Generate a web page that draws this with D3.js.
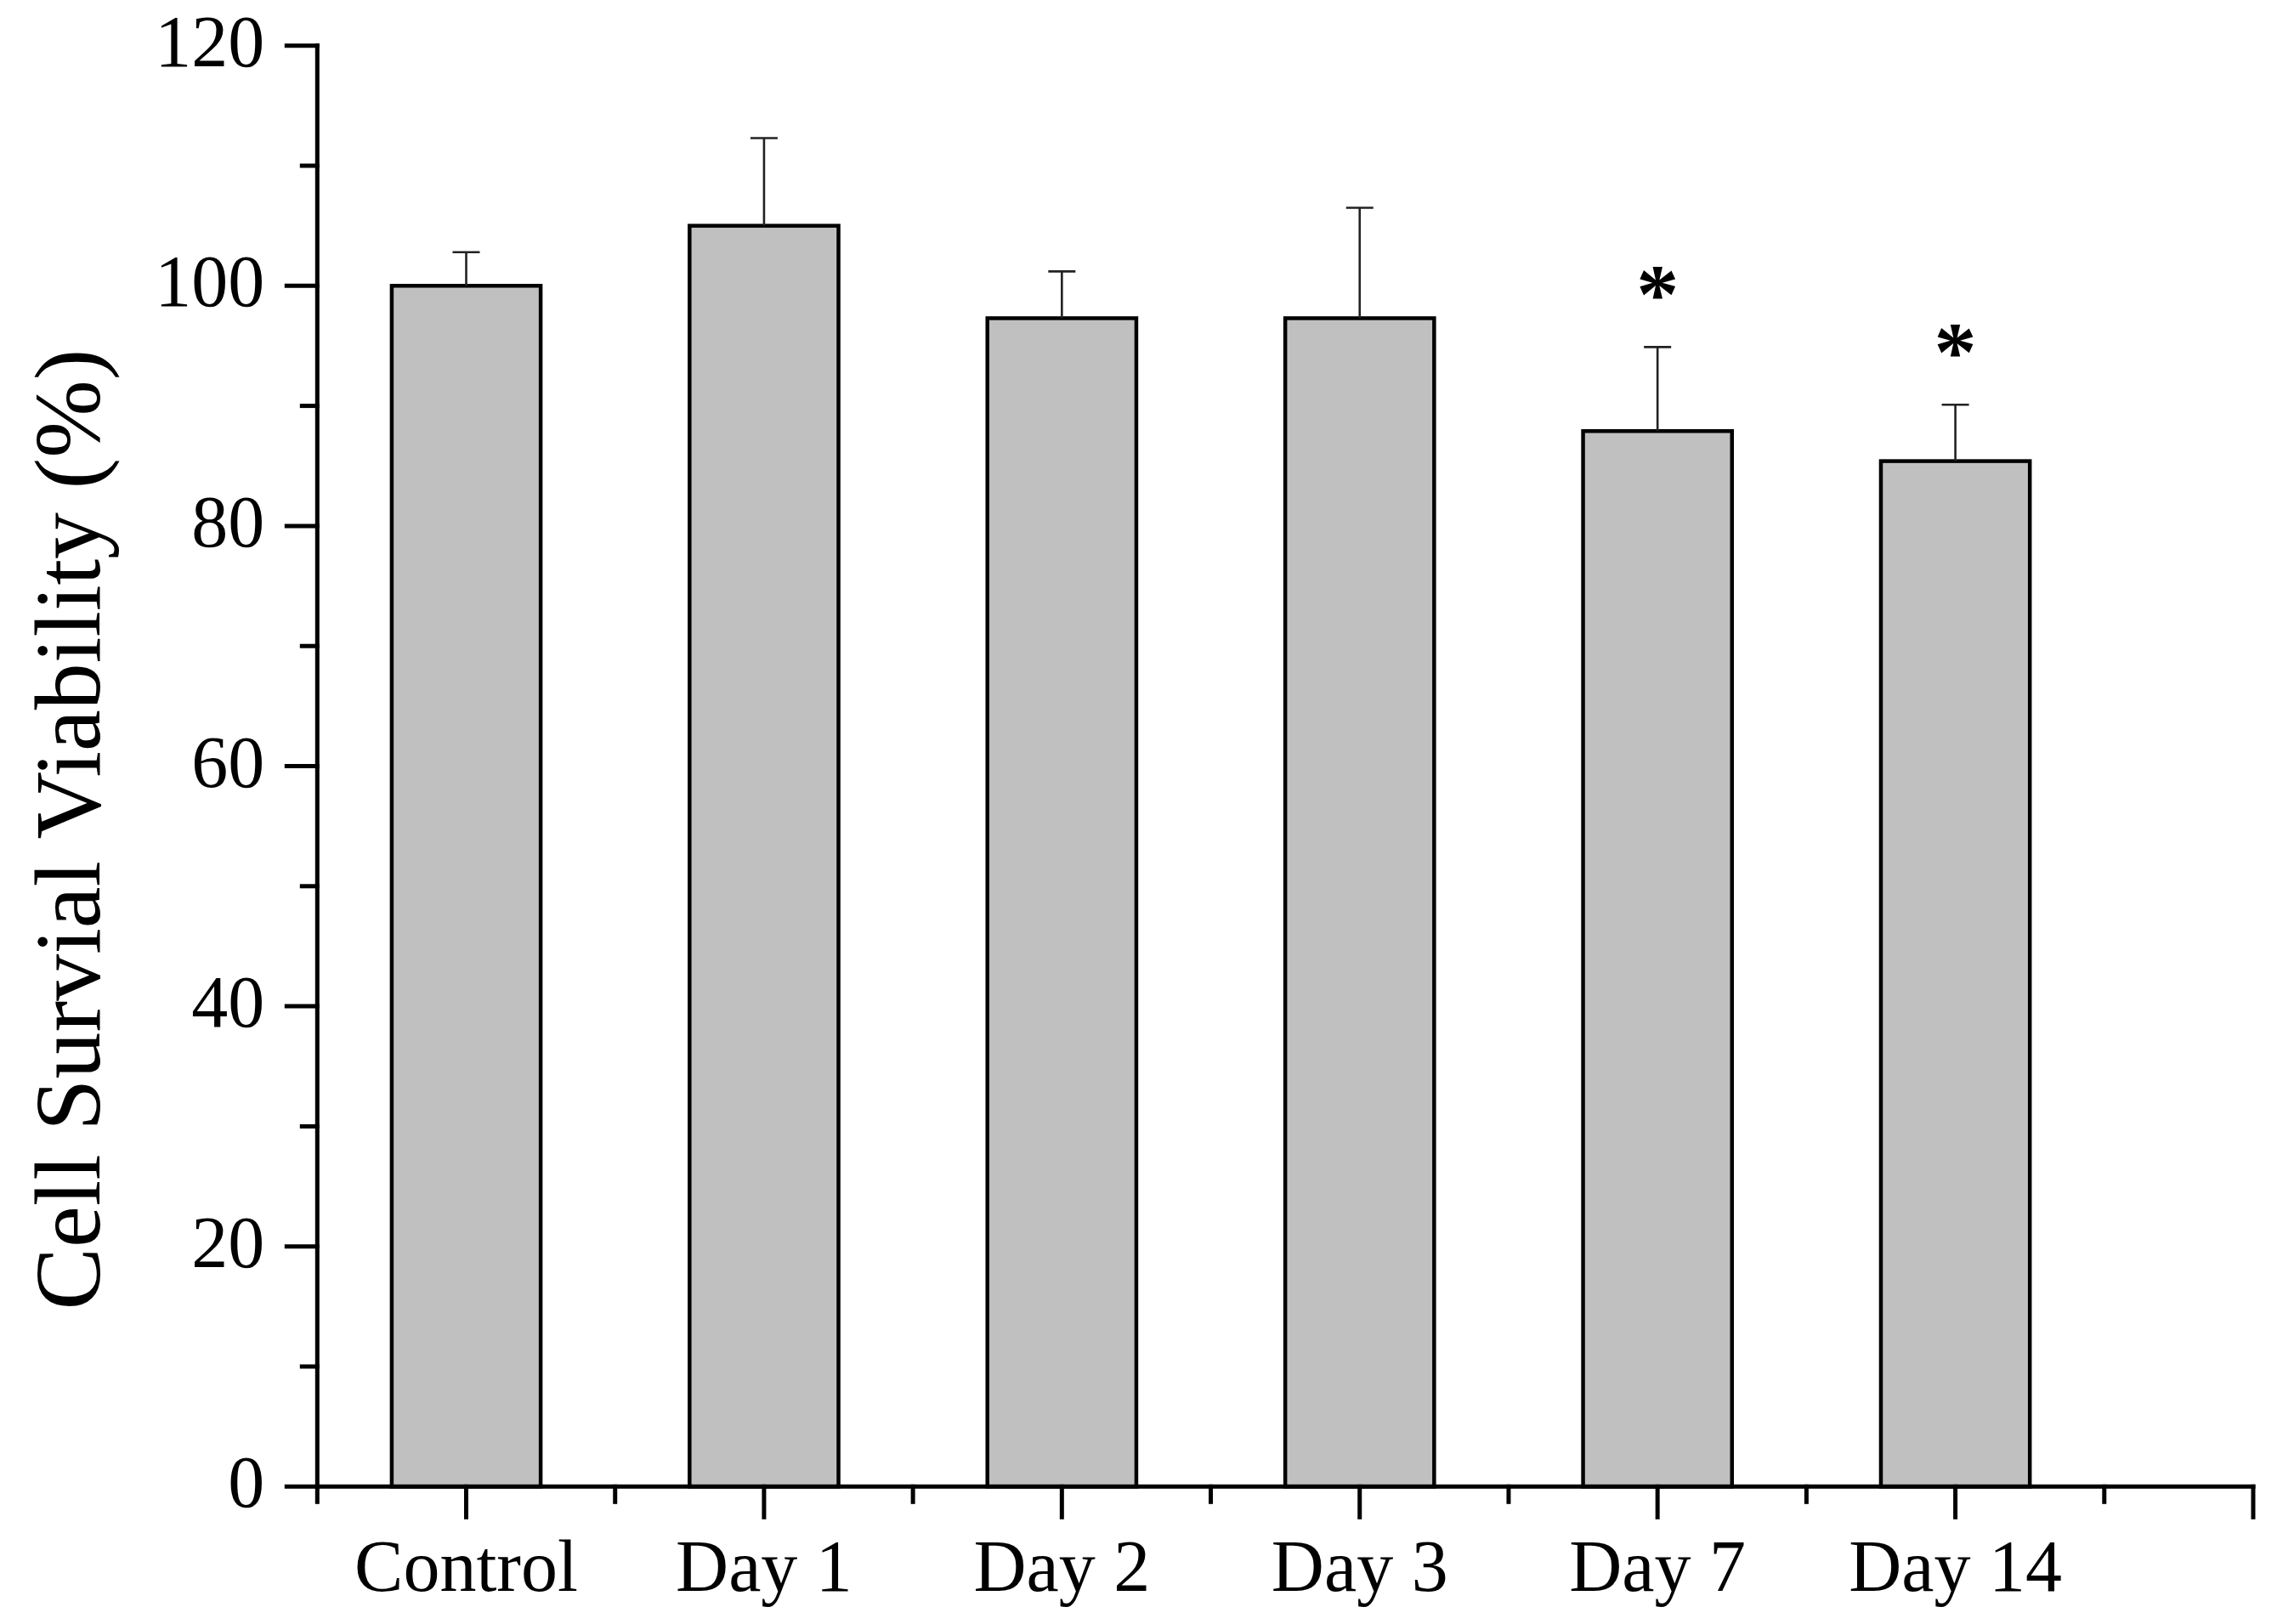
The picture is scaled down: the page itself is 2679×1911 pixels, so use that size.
<!DOCTYPE html>
<html>
<head>
<meta charset="utf-8">
<script src="https://cdn.jsdelivr.net/npm/d3@7"></script>
<style>
  html, body { margin: 0; padding: 0; background: #fff; }
  svg { display: block; }
  text { font-family: "Liberation Serif", "Times New Roman", serif; fill: #000; }
</style>
</head>
<body>
<svg id="chart" width="2679" height="1911"></svg>
<script>
// ---- data ----
const categories = ["Control", "Day 1", "Day 2", "Day 3", "Day 7", "Day 14"];
const means      = [100, 105, 97.3, 97.3, 87.9, 85.4];
const errors     = [2.8, 7.3, 3.9, 9.2, 7.0, 4.7];
const significant = [false, false, false, false, true, true];
const yTicksMajor = [0, 20, 40, 60, 80, 100, 120];
const yTicksMinor = [10, 30, 50, 70, 90, 110];
const yTitle = "Cell Survial Viability (%)";

// ---- layout ----
const svg = d3.select("#chart");
const x = d3.scaleLinear().domain([0.5, 7]).range([373.3, 2651]);
const y = d3.scaleLinear().domain([0, 120]).range([1749.3, 53.7]);
const slot = x(2) - x(1);
const barW = slot * 0.5;

const axisW = 5, majorLen = 36, minorLen = 18;

// bars
svg.append("g").selectAll("rect").data(means).join("rect")
  .attr("x", (d, i) => x(i + 1) - barW / 2)
  .attr("y", d => y(d))
  .attr("width", barW)
  .attr("height", d => y(0) - y(d))
  .attr("fill", "#c0c0c0")
  .attr("stroke", "#000")
  .attr("stroke-width", 4.5);

// error bars (upper only)
const eg = svg.append("g").attr("stroke", "#222").attr("stroke-width", 2.6);
means.forEach((m, i) => {
  const cx = x(i + 1);
  eg.append("line").attr("x1", cx).attr("x2", cx)
    .attr("y1", y(m)).attr("y2", y(m + errors[i]));
  eg.append("line").attr("x1", cx - 16).attr("x2", cx + 16)
    .attr("y1", y(m + errors[i])).attr("y2", y(m + errors[i]));
});

// significance asterisks
svg.append("g").selectAll("text")
  .data(means.map((m, i) => ({ m, i })).filter(d => significant[d.i]))
  .join("text")
  .attr("x", d => x(d.i + 1))
  .attr("y", d => y(d.m + errors[d.i]) - 77 + 48)
  .attr("text-anchor", "middle")
  .attr("font-weight", "bold")
  .attr("font-size", 100)
  .text("*");

// axes
const ax = svg.append("g").attr("stroke", "#000").attr("stroke-width", axisW).attr("stroke-linecap", "square");
// y axis line
ax.append("line").attr("x1", x(0.5)).attr("x2", x(0.5)).attr("y1", y(120)).attr("y2", y(0));
// x axis line
ax.append("line").attr("x1", x(0.5)).attr("x2", x(7)).attr("y1", y(0)).attr("y2", y(0));

// y ticks
yTicksMajor.forEach(t => {
  ax.append("line").attr("x1", x(0.5) - majorLen).attr("x2", x(0.5)).attr("y1", y(t)).attr("y2", y(t));
});
yTicksMinor.forEach(t => {
  ax.append("line").attr("x1", x(0.5) - minorLen).attr("x2", x(0.5)).attr("y1", y(t)).attr("y2", y(t));
});
// x ticks
const xMajor = d3.range(1, 8);
const xMinor = d3.range(0.5, 7, 1);
xMajor.forEach(t => {
  ax.append("line").attr("x1", x(t)).attr("x2", x(t)).attr("y1", y(0)).attr("y2", y(0) + majorLen);
});
xMinor.forEach(t => {
  ax.append("line").attr("x1", x(t)).attr("x2", x(t)).attr("y1", y(0)).attr("y2", y(0) + minorLen);
});

// y tick labels
svg.append("g").selectAll("text").data(yTicksMajor).join("text")
  .attr("x", x(0.5) - majorLen - 26)
  .attr("y", d => y(d) + 24)
  .attr("text-anchor", "end")
  .attr("font-size", 86)
  .text(d => d);

// x tick labels
svg.append("g").selectAll("text").data(categories).join("text")
  .attr("x", (d, i) => x(i + 1))
  .attr("y", 1872)
  .attr("text-anchor", "middle")
  .attr("font-size", 86)
  .text(d => d);

// y title
svg.append("text")
  .attr("transform", "translate(117,976) rotate(-90)")
  .attr("text-anchor", "middle")
  .attr("font-size", 110)
  .text(yTitle);
</script>
</body>
</html>
